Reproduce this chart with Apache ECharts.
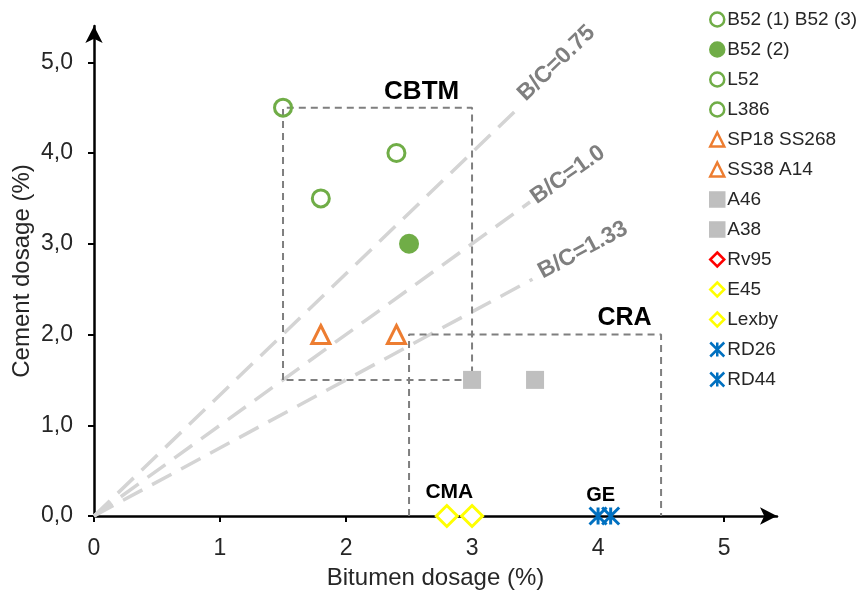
<!DOCTYPE html>
<html>
<head>
<meta charset="utf-8">
<script src="https://cdn.jsdelivr.net/npm/echarts@6/dist/echarts.min.js"></script>
<style>
  html, body { margin: 0; padding: 0; background: #fff; }
  #chart { width: 863px; height: 595px; }
</style>
</head>
<body>
<div id="chart"></div>
<script>
/* -----------------------------
   Bitumen vs cement dosage scatter
   ----------------------------- */

// Axis ticks
const X_TICKS = [0, 1, 2, 3, 4, 5];
const Y_TICKS = [0, 1, 2, 3, 4, 5];

// Mixes: [bitumen %, cement %]
const B52_1_3 = [[1.5, 4.5]];
const B52_2 = [[2.5, 3.0]];
const L52 = [[1.8, 3.5]];
const L386 = [[2.4, 4.0]];
const SP18_SS268 = [[1.8, 2.0]];
const SS38_A14 = [[2.4, 2.0]];
const A46 = [[3.0, 1.5]];
const A38 = [[3.5, 1.5]];
const RV95 = [];
const E45 = [[2.8, 0]];
const LEXBY = [[3.0, 0]];
const RD26 = [[4.0, 0]];
const RD44 = [[4.1, 0]];

// B/C ratio lines (from origin to end point)
const RATIO_NAMES = ["B/C=0.75", "B/C=1.0", "B/C=1.33"];
const RATIO_ENDS = [[3.37, 4.5], [3.46, 3.46], [3.48, 2.61]];
const RATIO_LABEL_AT = [[3.67, 4.99], [3.76, 3.76], [3.88, 2.93]];
const RATIO_ANGLE = [44, 35, 28];

// Domain boxes
const CBTM_BOX = [[1.5, 1.5], [1.5, 4.5], [3.0, 4.5], [3.0, 1.5], [1.5, 1.5]];
const CRA_BOX = [[2.5, 0], [2.5, 2.0], [4.5, 2.0], [4.5, 0]];

// Domain labels
const ZONE_NAMES = ["CBTM", "CRA", "CMA", "GE"];
const ZONE_AT = [[2.6, 4.68], [4.21, 2.18], [2.82, 0.26], [4.02, 0.23]];
const ZONE_SIZE = [26, 25, 21, 20];

const GREEN = "#70ad47";
const ORANGE = "#ed7d31";
const GREY = "#bfbfbf";
const BLUE = "#0070c0";
const STAR = "path://M0,0L10,10M10,0L0,10M5,0L5,10";
const FONT = "Liberation Sans, Arial, sans-serif";

const chart = echarts.init(document.getElementById("chart"));

const openCircle = { color: "rgba(255,255,255,0)", borderColor: GREEN, borderWidth: 3 };

function pointSeries(name, data, symbol, size, itemStyle) {
  return { name, type: "scatter", data, symbol, symbolSize: size, itemStyle: { opacity: 1, ...itemStyle }, z: 5 };
}

const series = [
  pointSeries("B52 (1) B52 (3)", B52_1_3, "circle", 17, openCircle),
  pointSeries("B52 (2)", B52_2, "circle", 20, { color: GREEN, borderColor: GREEN, borderWidth: 0 }),
  pointSeries("L52", L52, "circle", 17, openCircle),
  pointSeries("L386", L386, "circle", 17, openCircle),
  pointSeries("SP18 SS268", SP18_SS268, "triangle", 18, { color: "#fff", borderColor: ORANGE, borderWidth: 3 }),
  pointSeries("SS38 A14", SS38_A14, "triangle", 18, { color: "#fff", borderColor: ORANGE, borderWidth: 3 }),
  pointSeries("A46", A46, "rect", 18, { color: GREY, borderColor: GREY, borderWidth: 0 }),
  pointSeries("A38", A38, "rect", 18, { color: GREY, borderColor: GREY, borderWidth: 0 }),
  pointSeries("Rv95", RV95, "diamond", 12, { color: "#fff", borderColor: "#ff0000", borderWidth: 1.5 }),
  pointSeries("E45", E45, "diamond", 21, { color: "#fff", borderColor: "#ffff00", borderWidth: 3 }),
  pointSeries("Lexby", LEXBY, "diamond", 21, { color: "#fff", borderColor: "#ffff00", borderWidth: 3 }),
  pointSeries("RD26", RD26, STAR, 17, { color: "rgba(0,0,0,0)", borderColor: BLUE, borderWidth: 3 }),
  pointSeries("RD44", RD44, STAR, 17, { color: "rgba(0,0,0,0)", borderColor: BLUE, borderWidth: 3 })
];
const legendNames = series.map(s => s.name);

// ratio lines
RATIO_NAMES.forEach((name, i) => {
  series.push({
    type: "line",
    data: [[0, 0], RATIO_ENDS[i]],
    symbol: "none",
    silent: true,
    z: 1,
    lineStyle: { color: "#d4d4d4", width: 3.5, type: [22, 11] }
  });
  series.push({
    type: "scatter",
    data: [RATIO_LABEL_AT[i]],
    symbolSize: 0,
    silent: true,
    itemStyle: { opacity: 1 },
    label: {
      show: true,
      position: "inside",
      formatter: name,
      rotate: RATIO_ANGLE[i],
      color: "#7f7f7f",
      fontWeight: "bold",
      fontSize: 23,
      fontFamily: FONT
    }
  });
});

// domain boxes
[CBTM_BOX, CRA_BOX].forEach(box => {
  series.push({
    type: "line",
    data: box,
    symbol: "none",
    silent: true,
    z: 2,
    lineStyle: { color: "#7f7f7f", width: 2, type: [7, 5] }
  });
});

// domain labels
series.push({
  type: "scatter",
  data: ZONE_AT.map((p, i) => ({
    value: p,
    name: ZONE_NAMES[i],
    label: { fontSize: ZONE_SIZE[i] }
  })),
  symbolSize: 0,
  silent: true,
  itemStyle: { opacity: 1 },
  label: {
    show: true,
    position: "inside",
    formatter: "{b}",
    color: "#000",
    fontWeight: "bold",
    fontFamily: FONT
  }
});

const tickFont = { fontSize: 23, color: "#262626", fontFamily: FONT };
const titleFont = { fontSize: 24, color: "#262626", fontFamily: FONT };

chart.setOption({
  animation: false,
  grid: { left: 94, right: 86, top: 26, bottom: 79, outerBoundsMode: "none" },
  legend: {
    data: legendNames,
    orient: "vertical",
    left: 704,
    top: 5,
    itemWidth: 14,
    itemHeight: 14,
    itemGap: 11,
    itemStyle: { borderWidth: 2.5 },
    textStyle: { fontSize: 19, color: "#262626", fontFamily: FONT, padding: [0, 0, 0, -2] }
  },
  xAxis: {
    type: "value",
    min: 0,
    max: 5.42,
    interval: 1,
    name: "Bitumen dosage (%)",
    nameLocation: "middle",
    nameGap: 50,
    nameMoveOverlap: false,
    nameTextStyle: titleFont,
    axisLine: { lineStyle: { color: "#000", width: 2.5 }, symbol: ["none", "arrow"], symbolSize: [13, 17] },
    axisTick: { show: true, length: 6, lineStyle: { color: "#000", width: 2 }, customValues: X_TICKS },
    axisLabel: { ...tickFont, margin: 21, customValues: X_TICKS },
    splitLine: { show: false }
  },
  yAxis: {
    type: "value",
    min: 0,
    max: 5.4,
    interval: 1,
    name: "Cement dosage (%)",
    nameLocation: "middle",
    nameGap: 60,
    nameMoveOverlap: false,
    nameTextStyle: titleFont,
    axisLine: { lineStyle: { color: "#000", width: 2.5 }, symbol: ["none", "arrow"], symbolSize: [13, 17] },
    axisTick: { show: true, length: 6, lineStyle: { color: "#000", width: 2 }, customValues: Y_TICKS },
    axisLabel: { ...tickFont, margin: 21, customValues: Y_TICKS, formatter: v => v.toFixed(1).replace(".", ",") },
    splitLine: { show: false }
  },
  series
});
</script>
</body>
</html>
